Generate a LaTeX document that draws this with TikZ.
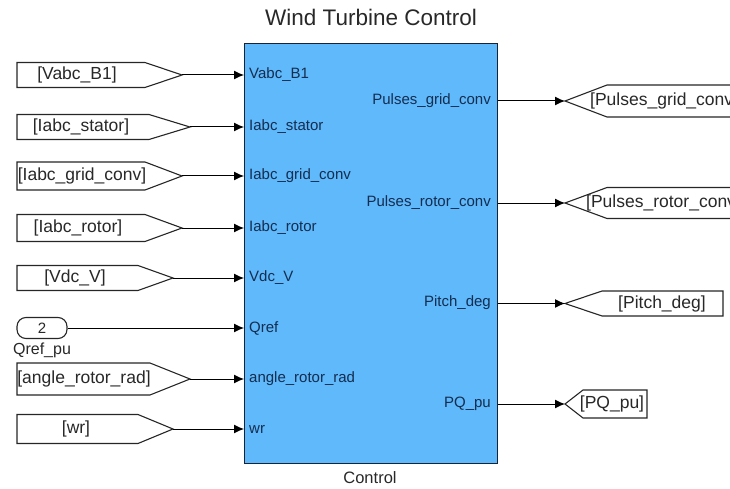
\documentclass[tikz,border=0pt]{standalone}
\usepackage{fontspec}
\setmainfont{Liberation Sans}
\usetikzlibrary{arrows.meta}
\definecolor{blkblue}{RGB}{95,185,250}
\definecolor{edgec}{RGB}{25,35,55}
\definecolor{porttxt}{RGB}{20,45,80}
\definecolor{txtc}{RGB}{40,40,40}
\tikzset{
  blkline/.style={draw=black!85, line width=1.1pt, fill=white, line join=miter},
  sig/.style={draw=black, line width=1pt, -{Latex[length=10pt,width=9pt]}},
  gtxt/.style={font=\fontsize{17.5}{20}\selectfont, text=txtc, inner sep=0pt},
  ptxt/.style={font=\fontsize{15}{17}\selectfont, text=porttxt, inner sep=0pt},
}
% #1 name, #2 y, #3 half height, #4 rect right, #5 point x, #6 text x, #7 text
\newcommand\FromBlk[7]{%
  \draw[blkline] (#4,#2-#3) -- (17,#2-#3) -- (17,#2+#3) -- (#4,#2+#3) -- (#5,#2) -- cycle;
  \coordinate (#1) at (#5,#2);
  \node[gtxt] (#1t) at (#6,#2) {#7};
}
% #1 name, #2 y, #3 half height, #4 diag end x, #5 right x, #6 text anchor, #7 text x, #8 text
\newcommand\GotoBlk[8]{%
  \draw[blkline] (565,#2) -- (#4,#2-#3) -- (#5,#2-#3) -- (#5,#2+#3) -- (#4,#2+#3) -- cycle;
  \coordinate (#1) at (565,#2);
  \node[gtxt, anchor=#6] (#1t) at (#7,#2) {#8};
}
\begin{document}
\begin{tikzpicture}[x=1pt,y=-1pt]
\useasboundingbox (0,0) rectangle (730,489);
\begin{scope}
\clip (0,0) rectangle (730,489);
% main block
\node[draw=edgec, fill=blkblue, line width=1.3pt, minimum width=253pt, minimum height=420pt,
      anchor=north west, inner sep=0pt] (ctrl) at (244,43) {};
\node[font=\fontsize{22.5}{25}\selectfont, text=txtc] (title) at (371,17) {Wind Turbine Control};
\node[font=\fontsize{16.5}{19}\selectfont, text=txtc] (clabel) at (370,478) {Control};

% input port labels
\node[ptxt, anchor=west] (i1) at (249,75) {Vabc\_B1};
\node[ptxt, anchor=west] (i2) at (249,127) {Iabc\_stator};
\node[ptxt, anchor=west] (i3) at (249,176) {Iabc\_grid\_conv};
\node[ptxt, anchor=west] (i4) at (249,228) {Iabc\_rotor};
\node[ptxt, anchor=west] (i5) at (249,278) {Vdc\_V};
\node[ptxt, anchor=west] (i6) at (249,328) {Qref};
\node[ptxt, anchor=west] (i7) at (249,379) {angle\_rotor\_rad};
\node[ptxt, anchor=west] (i8) at (249,429) {wr};

% output port labels
\node[ptxt, anchor=east] (o1) at (491,101) {Pulses\_grid\_conv};
\node[ptxt, anchor=east] (o2) at (491,203) {Pulses\_rotor\_conv};
\node[ptxt, anchor=east] (o3) at (491,303) {Pitch\_deg};
\node[ptxt, anchor=east] (o4) at (491,404) {PQ\_pu};

% From blocks
\FromBlk{f1}{75}{12.5}{145}{182}{77}{[Vabc\_B1]}
\FromBlk{f2}{127}{12.5}{149}{190}{81}{[Iabc\_stator]}
\FromBlk{f3}{176}{14}{145}{182}{82}{[Iabc\_grid\_conv]}
\FromBlk{f4}{228}{13.5}{145}{182}{78}{[Iabc\_rotor]}
\FromBlk{f5}{278}{12.5}{138}{173}{75}{[Vdc\_V]}
\FromBlk{f7}{379}{16}{150}{190}{84}{[angle\_rotor\_rad]}
\FromBlk{f8}{429}{14.5}{138}{173}{76}{[wr]}

% constant
\node[draw=black!85, line width=1.1pt, rounded corners=9pt, minimum width=50pt, minimum height=21pt,
      inner sep=0pt, font=\fontsize{15}{17}\selectfont, text=txtc] (qref) at (42,328) {2};
\node[font=\fontsize{16}{18}\selectfont, text=txtc, anchor=north] (qreflbl) at (qref.south) {Qref\_pu};

% input connectors
\draw[sig] (f1) -- (ctrl.west |- f1);
\draw[sig] (f2) -- (ctrl.west |- f2);
\draw[sig] (f3) -- (ctrl.west |- f3);
\draw[sig] (f4) -- (ctrl.west |- f4);
\draw[sig] (f5) -- (ctrl.west |- f5);
\draw[sig] (qref.east) -- (ctrl.west |- qref.east);
\draw[sig] (f7) -- (ctrl.west |- f7);
\draw[sig] (f8) -- (ctrl.west |- f8);

% Goto blocks
\GotoBlk{g1}{101}{16}{607}{745}{west}{590}{[Pulses\_grid\_conv]}
\GotoBlk{g2}{203}{15.5}{607}{745}{west}{586}{[Pulses\_rotor\_conv]}
\GotoBlk{g3}{303.5}{12.5}{602}{723}{center}{662}{[Pitch\_deg]}
\GotoBlk{g4}{404}{14}{583}{647}{center}{612}{[PQ\_pu]}

% output connectors
\draw[sig] (ctrl.east |- g1) -- (g1);
\draw[sig] (ctrl.east |- g2) -- (g2);
\draw[sig] (ctrl.east |- g3) -- (g3);
\draw[sig] (ctrl.east |- g4) -- (g4);
\end{scope}
\end{tikzpicture}
\end{document}
